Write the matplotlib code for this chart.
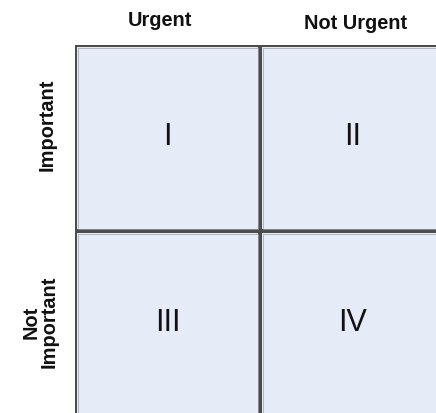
import matplotlib
matplotlib.use('Agg')
import matplotlib.pyplot as plt
from matplotlib.patches import Rectangle

# quadrant data
col_labels = ['Urgent', 'Not Urgent']
row_labels = ['Important', 'Not\nImportant']
quadrants = [['I', 'II'],
             ['III', 'IV']]

# layout in pixels (figure is 436 x 413)
col_x = [76, 261]
row_y = [46, 232]
cell_w = 183
cell_h = 184
col_label_pos = [(160, 26), (356, 29)]
row_label_pos = [(47, 125), (40, 322)]

fill_color = '#e5ecf7'
edge_color = '#474747'

plt.rcParams['font.family'] = ['Liberation Sans', 'DejaVu Sans']

fig = plt.figure(figsize=(4.36, 4.13), dpi=100)
ax = fig.add_axes([0, 0, 1, 1])
ax.set_xlim(0, 436)
ax.set_ylim(413, 0)
ax.axis('off')

for r, y0 in enumerate(row_y):
    for c, x0 in enumerate(col_x):
        ax.add_patch(Rectangle((x0, y0), cell_w, cell_h, facecolor=fill_color,
                               edgecolor=edge_color, linewidth=1.4))
        # light inner line gives the slightly embossed border
        ax.add_patch(Rectangle((x0 + 1.5, y0 + 1.5), cell_w - 3, cell_h - 3,
                               facecolor='none', edgecolor='#9aa0a8',
                               linewidth=0.5))
        ax.text(x0 + cell_w / 2, y0 + cell_h / 2 - 1, quadrants[r][c],
                fontsize=22, ha='center', va='center', color='#111111')

for label, (x, y) in zip(col_labels, col_label_pos):
    ax.text(x, y, label, fontsize=14.4, fontweight='bold', ha='center',
            va='baseline', color='#111111')

for label, (x, y) in zip(row_labels, row_label_pos):
    ax.text(x, y, label, fontsize=14.4, fontweight='bold', ha='center',
            va='center', rotation=90, multialignment='center',
            color='#111111', linespacing=0.95)

fig.savefig('out.png', dpi=100)
